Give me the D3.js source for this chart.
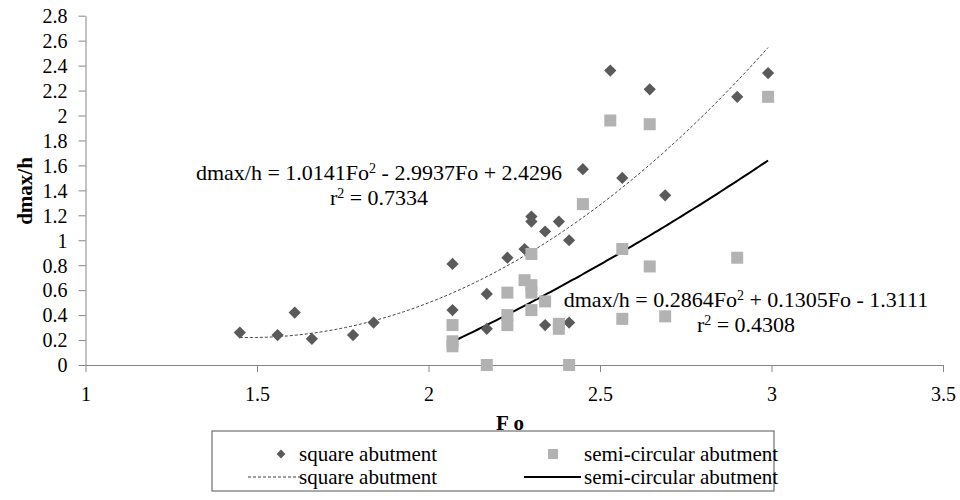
<!DOCTYPE html>
<html>
<head>
<meta charset="utf-8">
<script src="https://cdn.jsdelivr.net/npm/d3@7"></script>
<style>
  html, body { margin: 0; padding: 0; background: #fff; }
</style>
</head>
<body>
<svg id="chart" width="960" height="500" font-family="Liberation Serif"></svg>
<script>
// Square abutment measurements (Fo, dmax/h)
const squareFo = [1.45, 1.56, 1.61, 1.66, 1.78, 1.84, 2.07, 2.07, 2.17, 2.17, 2.23, 2.28, 2.30, 2.30, 2.34, 2.34, 2.38, 2.41, 2.41, 2.45, 2.53, 2.565, 2.645, 2.69, 2.90, 2.99];
const squareD  = [0.26, 0.24, 0.42, 0.21, 0.24, 0.34, 0.81, 0.44, 0.57, 0.29, 0.86, 0.93, 1.19, 1.15, 1.07, 0.32, 1.15, 1.00, 0.34, 1.57, 2.36, 1.50, 2.21, 1.36, 2.15, 2.34];

// Semi-circular abutment measurements (Fo, dmax/h)
const semiFo = [2.07, 2.07, 2.07, 2.17, 2.23, 2.23, 2.23, 2.28, 2.30, 2.30, 2.30, 2.30, 2.34, 2.38, 2.38, 2.41, 2.45, 2.53, 2.565, 2.565, 2.645, 2.645, 2.69, 2.90, 2.99];
const semiD  = [0.32, 0.19, 0.15, 0.00, 0.58, 0.40, 0.32, 0.68, 0.64, 0.58, 0.44, 0.89, 0.51, 0.33, 0.29, 0.00, 1.29, 1.96, 0.93, 0.37, 1.93, 0.79, 0.39, 0.86, 2.15];

// Quadratic trend line coefficients [a, b, c] for a*Fo^2 + b*Fo + c
const squareFit = [1.0141, -2.9937, 2.4296];
const semiFit   = [0.2864, 0.1305, -1.3111];
const squareR2 = "0.7334";
const semiR2   = "0.4308";

// Axis ticks
const xTicks = [1, 1.5, 2, 2.5, 3, 3.5];
const yTicks = [0, 0.2, 0.4, 0.6, 0.8, 1, 1.2, 1.4, 1.6, 1.8, 2, 2.2, 2.4, 2.6, 2.8];

// Legend entries
const legendLabels = ["square abutment", "semi-circular abutment", "square abutment", "semi-circular abutment"];

const svg = d3.select("#chart");
const FONT = "Liberation Serif";
const AXIS = "#868686";
const DARK = "#5a5a5a";
const LIGHT = "#b2b2b2";

const x = d3.scaleLinear().domain([1, 3.5]).range([85.5, 943]);
const y = d3.scaleLinear().domain([0, 2.8]).range([365, 15.7]);

// Axes
const xAxis = svg.append("g").attr("transform", `translate(0,${y(0)})`)
  .call(d3.axisBottom(x).tickValues(xTicks).tickFormat(d3.format("")).tickSize(7).tickSizeOuter(0));
const yAxis = svg.append("g").attr("transform", `translate(${x(1)},0)`)
  .call(d3.axisLeft(y).tickValues(yTicks).tickFormat(d3.format("")).tickSize(7).tickSizeOuter(0));
[xAxis, yAxis].forEach(g => {
  g.attr("font-family", FONT).attr("font-size", 20);
  g.select(".domain").attr("stroke", AXIS).attr("stroke-width", 1);
  g.selectAll(".tick line").attr("stroke", AXIS).attr("stroke-width", 1);
  g.selectAll(".tick text").attr("fill", "#000");
});
xAxis.selectAll(".tick text").attr("dy", 0).attr("y", 36);
yAxis.selectAll(".tick text").attr("x", -18).attr("dy", "0.34em");

// Axis titles
svg.append("text").attr("x", 510).attr("y", 430).attr("text-anchor", "middle")
  .attr("font-weight", "bold").attr("font-size", 21).text("F o");
svg.append("text").attr("transform", "translate(32,191) rotate(-90)").attr("text-anchor", "middle")
  .attr("font-weight", "bold").attr("font-size", 21).text("dmax/h");

// Trend lines
function quad(c) { return v => c[0] * v * v + c[1] * v + c[2]; }
function curve(c, lo, hi) {
  const f = quad(c);
  return d3.range(0, 101).map(i => { const v = lo + (hi - lo) * i / 100; return [v, f(v)]; });
}
const line = d3.line().x(d => x(d[0])).y(d => y(d[1]));
svg.append("path").attr("d", line(curve(squareFit, d3.min(squareFo), d3.max(squareFo))))
  .attr("fill", "none").attr("stroke", "#444").attr("stroke-width", 1).attr("stroke-dasharray", "3,2");
svg.append("path").attr("d", line(curve(semiFit, d3.min(semiFo), d3.max(semiFo))))
  .attr("fill", "none").attr("stroke", "#000").attr("stroke-width", 2);

// Markers
const diamond = d3.symbol().type(d3.symbolDiamond2).size(95);
svg.append("g").selectAll("path").data(squareFo.map((f, i) => [f, squareD[i]])).join("path")
  .attr("d", diamond).attr("transform", d => `translate(${x(d[0])},${y(d[1])})`).attr("fill", DARK);
svg.append("g").selectAll("rect").data(semiFo.map((f, i) => [f, semiD[i]])).join("rect")
  .attr("x", d => x(d[0]) - 6).attr("y", d => y(d[1]) - 6).attr("width", 12).attr("height", 12).attr("fill", LIGHT);

// Trend line equations
function fmt(v) { return Math.abs(v).toFixed(4); }
function equation(g, c, r2, cx, cy) {
  const t = g.append("text").attr("x", cx).attr("y", cy).attr("text-anchor", "middle").attr("font-size", 22);
  t.append("tspan").text(`dmax/h = ${fmt(c[0])}Fo`);
  t.append("tspan").attr("dy", -7).attr("font-size", 14).text("2");
  t.append("tspan").attr("dy", 7).text(` ${c[1] < 0 ? "-" : "+"} ${fmt(c[1])}Fo ${c[2] < 0 ? "-" : "+"} ${fmt(c[2])}`);
  const r = g.append("text").attr("x", cx).attr("y", cy + 25).attr("text-anchor", "middle").attr("font-size", 22);
  r.append("tspan").text("r");
  r.append("tspan").attr("dy", -7).attr("font-size", 14).text("2");
  r.append("tspan").attr("dy", 7).text(` = ${r2}`);
}
equation(svg.append("g"), squareFit, squareR2, 379, 180);
equation(svg.append("g"), semiFit, semiR2, 746, 307);

// Legend
const lg = svg.append("g").attr("font-size", 21);
lg.append("rect").attr("x", 212).attr("y", 431).attr("width", 562).attr("height", 60)
  .attr("fill", "#fff").attr("stroke", "#555").attr("stroke-width", 1);
const row1 = 454, row2 = 477;
lg.append("path").attr("d", d3.symbol().type(d3.symbolDiamond2).size(50)).attr("transform", `translate(281,${row1})`).attr("fill", DARK);
lg.append("rect").attr("x", 548).attr("y", row1 - 5).attr("width", 10).attr("height", 10).attr("fill", LIGHT);
lg.append("line").attr("x1", 248).attr("x2", 300).attr("y1", row2).attr("y2", row2)
  .attr("stroke", "#444").attr("stroke-width", 1).attr("stroke-dasharray", "3,2");
lg.append("line").attr("x1", 524).attr("x2", 581).attr("y1", row2).attr("y2", row2)
  .attr("stroke", "#000").attr("stroke-width", 2);
[[299, row1], [584, row1], [299, row2], [584, row2]].forEach((p, i) => {
  lg.append("text").attr("x", p[0]).attr("y", p[1]).attr("dy", "0.33em").text(legendLabels[i]);
});
</script>
</body>
</html>
